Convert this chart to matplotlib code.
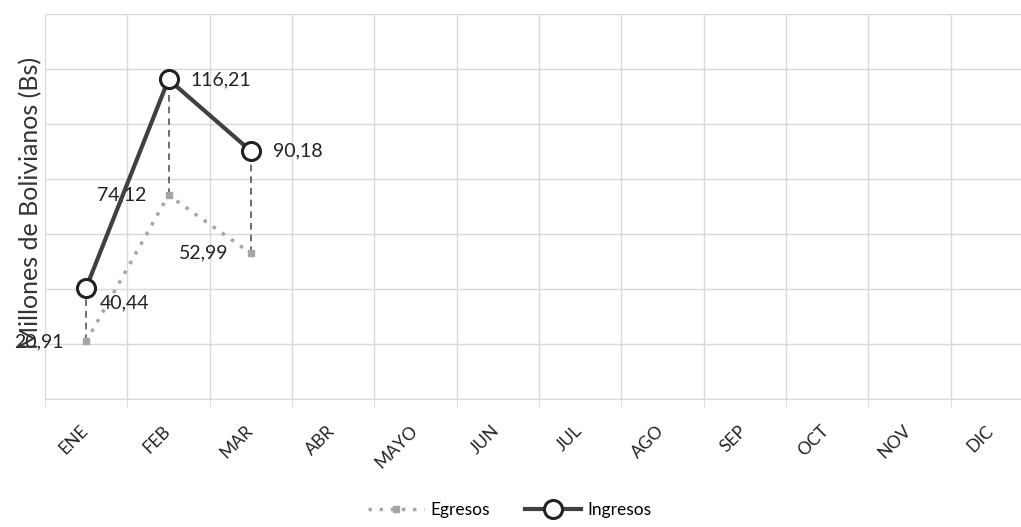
import matplotlib
matplotlib.use("Agg")
import matplotlib.pyplot as plt
import matplotlib.transforms as mtransforms
import numpy as np

months = ["ENE", "FEB", "MAR", "ABR", "MAYO", "JUN", "JUL", "AGO", "SEP", "OCT", "NOV", "DIC"]
ingresos = [40.44, 116.21, 90.18]
egresos = [20.91, 74.12, 52.99]
ingresos_labels = ["40,44", "116,21", "90,18"]
egresos_labels = ["20,91", "74,12", "52,99"]

plt.rcParams['font.family'] = ['Lato', 'DejaVu Sans']

W, H = 1021, 527
fig = plt.figure(figsize=(W / 100, H / 100), dpi=100)
left, right, top, bottom = 45, 1033, 14, 399
ax = fig.add_axes([left / W, 1 - bottom / H, (right - left) / W, (bottom - top) / H])

x = np.arange(len(months))
xi = x[:len(ingresos)]

ax.set_xlim(-0.5, len(months) - 0.5)
ax.set_ylim(0, 140)
ax.set_yticks(np.arange(0, 141, 20))
ax.set_xticks(x)
ax.set_xticks(np.arange(-0.5, len(months), 1), minor=True)
ax.grid(True, which='minor', axis='x', color='#d9d9d9', lw=1)
ax.grid(True, which='major', axis='y', color='#d9d9d9', lw=1)
ax.tick_params(axis='y', left=False, labelleft=False)
ax.tick_params(axis='x', which='major', length=0, pad=17)
ax.tick_params(axis='x', which='minor', length=6, color='#d9d9d9')
ax.set_xticklabels(months, rotation=45, ha='right', va='top', fontsize=12.5, color='#222222')
offset = mtransforms.ScaledTranslation(5 / 100, 0, fig.dpi_scale_trans)
for lbl in ax.get_xticklabels():
    lbl.set_transform(lbl.get_transform() + offset)
for s in ['top', 'right', 'left']:
    ax.spines[s].set_visible(False)
ax.spines['bottom'].set_color('#d9d9d9')

# high-low drop lines
for xx, a, b in zip(xi, ingresos, egresos):
    ax.plot([xx, xx], [b, a], color='#555555', lw=1.2, ls=(0, (4, 3)), zorder=2)

ax.plot(xi, egresos, color='#a6a6a6', lw=2.5, ls=(0, (1, 2.2)), marker='s', ms=5,
        mfc='#a6a6a6', mec='#a6a6a6', label='Egresos', zorder=3)
ax.plot(xi, ingresos, color='#404040', lw=3, marker='o', ms=13, mfc='white',
        mec='#222222', mew=2.2, label='Ingresos', zorder=4)

fs = 14
# Ingresos labels
ax.annotate(ingresos_labels[0], (xi[0], ingresos[0]), xytext=(10, -11), textcoords='offset points',
            ha='left', va='center', fontsize=fs, color='#222222')
ax.annotate(ingresos_labels[1], (xi[1], ingresos[1]), xytext=(16, 0), textcoords='offset points',
            ha='left', va='center', fontsize=fs, color='#222222')
ax.annotate(ingresos_labels[2], (xi[2], ingresos[2]), xytext=(16, 0), textcoords='offset points',
            ha='left', va='center', fontsize=fs, color='#222222')
# Egresos labels
for xx, v, t in zip(xi, egresos, egresos_labels):
    ax.annotate(t, (xx, v), xytext=(-16, 0), textcoords='offset points',
                ha='right', va='center', fontsize=fs, color='#222222')

fig.text(31 / W, 1 - 203 / H, "Millones de Bolivianos (Bs)", rotation=90, ha='center', va='center',
         fontsize=18, color='#333333')

leg = ax.legend(loc='center', bbox_to_anchor=(510 / W, 1 - 510 / H), bbox_transform=fig.transFigure,
                ncol=2, frameon=False, fontsize=12.5, handlelength=3.2, columnspacing=2.0, handletextpad=0.4)

fig.savefig("out.png", dpi=100)
